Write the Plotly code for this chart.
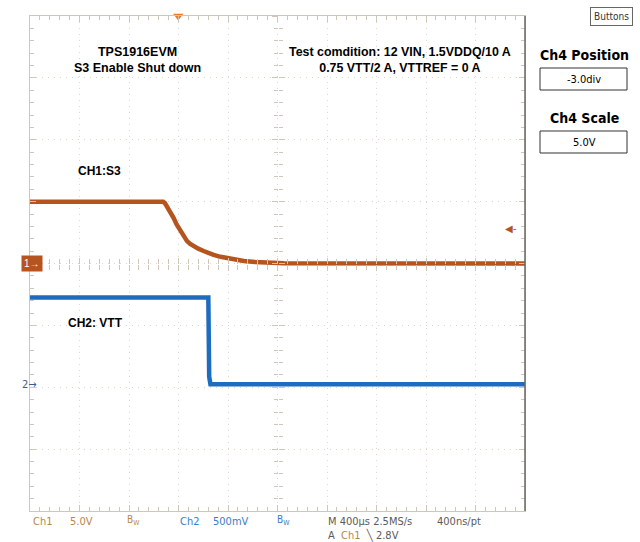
import plotly.graph_objects as go

# ---------------- data ----------------
time_per_div_us = 400
n_xdiv = 10
n_ydiv = 8
ch1_scale = 5.0        # V/div
ch2_scale = 0.5        # V/div
ch1_pos_div = 0.0
ch2_pos_div = -1.95

ch1_t = [0, 1077, 1090, 1105, 1120, 1140, 1160, 1185, 1215, 1240, 1269, 1295, 1322, 1360, 1403,
         1440, 1484, 1540, 1593, 1660, 1727, 1820, 1917, 2051, 4000]
ch1_v = [4.98, 4.98, 4.88, 4.65, 4.37, 4.02, 3.69, 3.15, 2.62, 2.20, 1.81, 1.58, 1.41, 1.20, 1.01,
         0.85, 0.69, 0.54, 0.42, 0.30, 0.20, 0.12, 0.06, 0.02, 0.0]
ch2_t = [0, 1441, 1448, 1458, 4000]
ch2_v = [0.70, 0.70, 0.06, 0.0, 0.0]
trigger_t = [1198]
trigger_level_v = [2.8]

# ---------------- style ----------------
W, H = 640, 542
ORANGE = "#B5541E"
BLUE = "#1E6CC0"
GRAT = "#CFC6B8"
GRID = "#DDD6CB"
FONT = "Liberation Sans, Arial, sans-serif"
NARROW = "DejaVu Sans Condensed, Liberation Sans Narrow, Liberation Sans, Arial, sans-serif"

x0p, x1p = 30 / W, 525 / W
y0p, y1p = 1 - 511 / H, 1 - 16 / H
xc = (x0p + x1p) / 2
yc = (y0p + y1p) / 2
xr = [0, time_per_div_us * n_xdiv]
yr = [-n_ydiv / 2, n_ydiv / 2]


def volts_range(scale, pos):
    return [(yr[0] - pos) * scale, (yr[1] - pos) * scale]


fig = go.Figure()
fig.add_trace(go.Scatter(x=ch1_t, y=ch1_v, mode="lines", line=dict(color=ORANGE, width=4.5),
                         xaxis="x", yaxis="y2", showlegend=False, hoverinfo="skip"))
fig.add_trace(go.Scatter(x=ch2_t, y=ch2_v, mode="lines", line=dict(color=BLUE, width=4.5),
                         xaxis="x", yaxis="y3", showlegend=False, hoverinfo="skip"))
# trigger position marker (top)
fig.add_trace(go.Scatter(x=trigger_t, y=[yr[1]], mode="markers",
                         marker=dict(symbol="triangle-down", size=9, color="#F07822"),
                         xaxis="x", yaxis="y", cliponaxis=False, showlegend=False, hoverinfo="skip"))
# dummy traces for center graticule axes
for xa, ya in [("x2", "y"), ("x3", "y"), ("x", "y4"), ("x", "y5")]:
    fig.add_trace(go.Scatter(x=[None], y=[None], xaxis=xa, yaxis=ya, showlegend=False, hoverinfo="skip"))

border = dict(showline=True, linecolor=GRAT, linewidth=1, mirror="ticks", ticks="inside",
              ticklen=6, tickcolor=GRAT, showticklabels=False, zeroline=False,
              showgrid=True, gridcolor=GRID, griddash="1px,5px", gridwidth=1)

center_common = dict(showline=False, showgrid=False, zeroline=False, showticklabels=False,
                     ticklen=6, tickcolor=GRAT, anchor="free")

fig.update_layout(
    width=W, height=H, margin=dict(l=0, r=0, t=0, b=0),
    paper_bgcolor="white", plot_bgcolor="white",
    xaxis=dict(domain=[x0p, x1p], range=xr, dtick=time_per_div_us, anchor="y",
               minor=dict(dtick=time_per_div_us / 5, ticklen=4, tickcolor=GRAT, ticks="inside"),
               **border),
    yaxis=dict(domain=[y0p, y1p], range=yr, dtick=1, anchor="x",
               minor=dict(dtick=0.2, ticklen=4, tickcolor=GRAT, ticks="inside"),
               **border),
    yaxis2=dict(overlaying="y", range=volts_range(ch1_scale, ch1_pos_div), visible=False, anchor="x"),
    yaxis3=dict(overlaying="y", range=volts_range(ch2_scale, ch2_pos_div), visible=False, anchor="x"),
    xaxis2=dict(overlaying="x", range=xr, dtick=time_per_div_us, position=yc, ticks="outside",
                minor=dict(dtick=time_per_div_us / 5, ticklen=5, tickcolor=GRAT, ticks="outside"),
                **center_common),
    xaxis3=dict(overlaying="x", range=xr, dtick=time_per_div_us, position=yc, ticks="inside",
                minor=dict(dtick=time_per_div_us / 5, ticklen=5, tickcolor=GRAT, ticks="inside"),
                **center_common),
    yaxis4=dict(overlaying="y", range=yr, dtick=1, position=xc, ticks="outside",
                minor=dict(dtick=0.2, ticklen=4, tickcolor=GRAT, ticks="outside"),
                **center_common),
    yaxis5=dict(overlaying="y", range=yr, dtick=1, position=xc, ticks="inside",
                minor=dict(dtick=0.2, ticklen=4, tickcolor=GRAT, ticks="inside"),
                **center_common),
)

# darker right border
fig.add_shape(type="line", xref="paper", yref="paper", x0=x1p, x1=x1p, y0=y0p, y1=y1p,
              line=dict(color="#6A6660", width=1.5))

ann = []


def px(x, y):
    return x / W, 1 - y / H


def text(x, y, s, size=12, color="black", bold=False, family=FONT, xanchor="center", **kw):
    xx, yy = px(x, y)
    ann.append(dict(x=xx, y=yy, xref="paper", yref="paper", text=f"<b>{s}</b>" if bold else s,
                    showarrow=False, xanchor=xanchor, yanchor="middle",
                    font=dict(size=size, color=color, family=family), **kw))


text(137, 60, "TPS1916EVM<br>S3 Enable Shut down", size=12.5, bold=True)
text(400, 60, "Test comdition: 12 VIN, 1.5VDDQ/10 A<br>0.75 VTT/2 A, VTTREF = 0 A", size=12.4, bold=True)
text(99, 171, "CH1:S3", size=12, bold=True)
text(95, 323, "CH2: VTT", size=12, bold=True)

# channel ground markers
ann.append(dict(x=21 / W, y=ch1_pos_div * ch1_scale, xref="paper", yref="y2", text="1→",
                showarrow=False, font=dict(size=10, color="white", family=FONT),
                bgcolor=ORANGE, borderpad=2))
ann.append(dict(x=20 / W, y=0, xref="paper", yref="y3", text="2→",
                showarrow=False, font=dict(size=11, color="#3A5F8F", family=NARROW)))
# trigger level marker
ann.append(dict(x=518 / W, y=trigger_level_v[0], xref="paper", yref="y2", text="◀-",
                showarrow=False, font=dict(size=10, color=ORANGE, family=FONT)))

# right panel
text(611, 16, "Buttons", size=10, family=NARROW, color="#333",
     bordercolor="#666", borderwidth=1, borderpad=3)
text(584, 55, "Ch4 Position", size=14, bold=True, family=NARROW)
text(584, 79, "-3.0div", size=11, family=NARROW)
text(584, 118, "Ch4 Scale", size=14, bold=True, family=NARROW)
text(584, 142, "5.0V", size=11, family=NARROW)
for (y0, y1) in [(68, 90), (131, 153)]:
    fig.add_shape(type="rect", xref="paper", yref="paper",
                  x0=540 / W, x1=627 / W, y0=1 - y1 / H, y1=1 - y0 / H,
                  line=dict(color="#333", width=1))

# bottom status line
TAN = "#B8864E"
CBLUE = "#3C7CC4"
GRAYT = "#5A5A5A"
text(31, 521, "Ch1", size=11, color=TAN, family=NARROW, xanchor="left")
text(68, 521, "5.0V", size=11, color=TAN, family=NARROW, xanchor="left")
text(125, 520, "B<sub>W</sub>", size=10, color=TAN, family=NARROW, xanchor="left")
text(178, 521, "Ch2", size=11, color=CBLUE, family=NARROW, xanchor="left")
text(211, 521, "500mV", size=11, color=CBLUE, family=NARROW, xanchor="left")
text(275, 520, "B<sub>W</sub>", size=10, color=CBLUE, family=NARROW, xanchor="left")
text(326, 521, "M 400µs 2.5MS/s", size=11, color=GRAYT, family=NARROW, xanchor="left")
text(435, 521, "400ns/pt", size=11, color=GRAYT, family=NARROW, xanchor="left")
text(326, 535, f"A  <span style='color:{TAN}'>Ch1</span>  ╲ 2.8V", size=11, color=GRAYT,
     family=NARROW, xanchor="left")

fig.update_layout(annotations=ann)
fig.write_html("out.html", config={"displayModeBar": False},
               post_script="document.body.style.margin='0';document.body.style.overflow='hidden';")
